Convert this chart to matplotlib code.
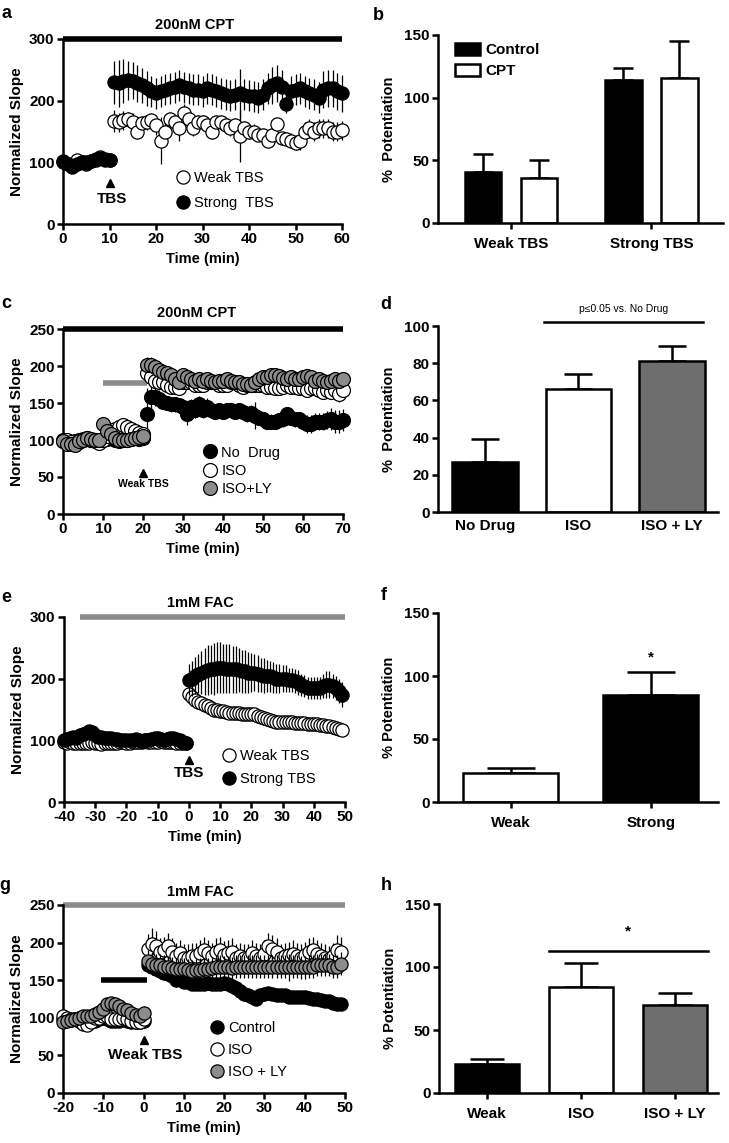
import numpy as np
import matplotlib
matplotlib.use('Agg')
import matplotlib.pyplot as plt

plt.rcParams['font.family'] = ['Liberation Sans', 'DejaVu Sans']
plt.rcParams['font.weight'] = 'bold'
plt.rcParams['axes.labelweight'] = 'bold'
plt.rcParams['axes.linewidth'] = 1.8
plt.rcParams['axes.unicode_minus'] = False

# ---------------- data ----------------
# panel a: 200nM CPT, weak vs strong TBS (t = 0..60 min)
a_time = np.arange(0, 61)
a_weak = [100, 98, 96, 103, 100, 101, 102, 104, 108, 105, 103,
          167, 165, 168, 170, 165, 150, 163, 165, 168, 160, 135, 150, 170, 165, 155, 180, 170, 155, 165, 165,
          160, 150, 165, 165, 160, 155, 160, 143, 155, 150, 150, 145, 145, 135, 145, 162, 140, 138, 135, 132,
          135, 150, 155, 150, 155, 155, 155, 150, 150, 152]
a_weak_err = [4, 4, 4, 4, 4, 4, 4, 4, 4, 4, 4,
              18, 15, 15, 12, 15, 12, 12, 12, 12, 15, 38, 15, 12, 12, 20, 15, 12, 12, 12, 12,
              12, 12, 12, 12, 12, 12, 12, 42, 12, 12, 12, 10, 10, 10, 10, 10, 10, 10, 12, 12,
              15, 15, 15, 15, 15, 15, 15, 15, 15, 15]
a_strong = [102, 97, 93, 97, 100, 98, 102, 105, 107, 104, 104,
            230, 228, 232, 233, 232, 228, 225, 220, 215, 212, 215, 218, 220, 222, 225, 222, 220, 218, 218, 215,
            220, 218, 215, 212, 210, 208, 210, 212, 210, 208, 207, 205, 210, 220, 225, 228, 222, 195, 215, 218,
            220, 215, 212, 210, 205, 218, 220, 220, 215, 212]
a_strong_err = [5, 5, 5, 5, 5, 5, 5, 5, 5, 5, 5,
                35, 38, 35, 32, 30, 30, 28, 28, 25, 25, 25, 25, 25, 25, 25, 25, 25, 25, 25, 25,
                25, 25, 25, 25, 25, 25, 25, 40, 25, 25, 25, 25, 25, 25, 30, 30, 28, 15, 25, 25,
                25, 25, 25, 25, 25, 30, 30, 30, 30, 30]
a_drug_bar = [0, 60]
a_stim = 10

# panel b
b_groups = ['Weak TBS', 'Strong TBS']
b_control = [41, 114]
b_control_err = [14, 10]
b_cpt = [36, 116]
b_cpt_err = [14, 29]

# panel c: 200nM CPT, no drug / ISO / ISO+LY (t = 0..70 min)
c_time = np.arange(0, 71)
c_nodrug = [100, 98, 97, 98, 100, 102, 103, 100, 100, 98, 100, 102, 104, 100, 98, 100, 100, 102, 103, 102, 103,
            135, 158, 158, 155, 152, 150, 148, 148, 147, 145,
            135, 145, 140, 148, 140, 145, 140, 138, 140, 138,
            140, 140, 138, 140, 138, 135, 137, 133, 130, 128,
            125, 125, 125, 127, 128, 135, 130, 128, 128, 125,
            122, 122, 125, 125, 125, 127, 128, 125, 125, 127]
c_nodrug_err = [5, 5, 5, 5, 5, 5, 5, 5, 5, 5, 5, 5, 5, 5, 5, 5, 5, 5, 5, 5, 5,
                35, 15, 12, 12, 10, 10, 10, 10, 10, 10,
                15, 10, 10, 12, 10, 12, 10, 10, 10, 10,
                10, 10, 10, 10, 10, 10, 10, 18, 10, 10,
                10, 10, 10, 10, 10, 10, 10, 10, 10, 10,
                12, 12, 12, 12, 12, 12, 15, 15, 15, 15]
c_iso = [98, 100, 97, 95, 97, 100, 102, 100, 98, 96, 100, 105, 110, 115, 118, 120, 118, 115, 112, 110, 108,
         190, 185, 180, 178, 178, 175, 172, 172, 170, 178,
         178, 178, 175, 175, 175, 178, 178, 178, 175, 175,
         175, 178, 178, 175, 172, 175, 175, 175, 175, 175,
         172, 172, 170, 170, 172, 175, 172, 172, 170, 170,
         168, 170, 170, 168, 165, 168, 165, 168, 162, 168]
c_iso_err = [5, 5, 5, 5, 5, 5, 5, 5, 5, 5, 6, 6, 6, 6, 6, 6, 6, 6, 6, 6, 6,
             12, 10, 8, 8, 8, 8, 8, 8, 8, 8,
             8, 8, 8, 8, 8, 8, 8, 8, 8, 8,
             8, 8, 8, 8, 8, 8, 8, 8, 8, 8,
             8, 8, 8, 8, 8, 8, 8, 8, 8, 8,
             8, 8, 8, 8, 8, 8, 8, 8, 10, 10]
c_isoly = [98, 95, 95, 93, 98, 100, 103, 102, 100, 100, 122, 112, 108, 103, 100, 100, 100, 102, 103, 104, 105,
           202, 202, 198, 195, 192, 190, 188, 182, 178, 188,
           185, 182, 180, 182, 180, 182, 180, 178, 180, 180,
           182, 180, 178, 178, 176, 176, 175, 178, 182, 185,
           185, 188, 188, 186, 184, 182, 185, 183, 182, 185,
           186, 185, 180, 182, 180, 178, 180, 182, 180, 182]
c_isoly_err = [5, 5, 5, 5, 5, 5, 5, 5, 5, 5, 8, 6, 6, 6, 6, 6, 6, 6, 6, 6, 6,
               10, 10, 8, 8, 8, 8, 8, 8, 8, 8,
               8, 8, 8, 8, 8, 8, 8, 8, 8, 8,
               8, 8, 8, 8, 8, 8, 8, 8, 8, 8,
               8, 8, 8, 8, 8, 8, 8, 8, 8, 8,
               8, 8, 8, 8, 8, 8, 8, 8, 8, 8]
c_drug_bar = [0, 70]
c_iso_bar = [10, 21]
c_iso_bar_level = 177
c_stim = 20

# panel d
d_groups = ['No Drug', 'ISO', 'ISO + LY']
d_mean = [27, 66, 81]
d_err = [12, 8, 8]

# panel e: 1mM FAC, weak vs strong TBS (t = -40..49 min)
e_time = np.arange(-40, 50)
e_strong = [100, 102, 104, 106, 104, 108, 110, 112, 115, 113,
            108, 106, 105, 104, 104, 103, 102, 102, 100, 100,
            100, 100, 101, 102, 100, 98, 100, 100, 102, 104,
            103, 102, 100, 102, 104, 103, 102, 100, 98, 96,
            198, 200, 205, 208, 210, 212, 214, 215, 216, 218,
            218, 217, 216, 216, 215, 215, 214, 212, 212, 210,
            210, 210, 208, 206, 205, 205, 204, 202, 200, 200,
            200, 200, 198, 198, 196, 194, 190, 188, 185, 185,
            185, 185, 185, 188, 190, 190, 188, 185, 180, 174]
e_strong_err = [5, 5, 5, 5, 5, 5, 5, 5, 5, 5,
                5, 5, 5, 5, 5, 5, 5, 5, 5, 5,
                5, 5, 5, 5, 5, 5, 5, 5, 5, 5,
                5, 5, 5, 5, 5, 5, 5, 5, 5, 5,
                25, 28, 30, 32, 35, 38, 40, 40, 42, 42,
                42, 40, 40, 40, 38, 38, 36, 35, 35, 33,
                32, 30, 30, 28, 28, 26, 25, 25, 24, 24,
                22, 22, 20, 20, 20, 20, 18, 18, 18, 18,
                18, 18, 18, 20, 22, 22, 20, 20, 20, 20]
e_weak = [98, 96, 97, 96, 95, 96, 95, 95, 96, 98,
          95, 96, 94, 95, 96, 95, 95, 96, 98, 97,
          96, 96, 98, 98, 98, 99, 100, 98, 97, 98,
          98, 99, 98, 97, 98, 97, 96, 95, 95, 96,
          175, 170, 165, 162, 160, 158, 155, 153, 150, 150,
          148, 148, 146, 145, 145, 145, 144, 143, 142, 142,
          142, 142, 140, 138, 136, 135, 133, 132, 130, 130,
          130, 130, 130, 130, 128, 128, 128, 128, 127, 127,
          126, 126, 125, 125, 124, 123, 122, 120, 118, 117]
e_weak_err = [4, 4, 4, 4, 4, 4, 4, 4, 4, 4,
              4, 4, 4, 4, 4, 4, 4, 4, 4, 4,
              4, 4, 4, 4, 4, 4, 4, 4, 4, 4,
              4, 4, 4, 4, 4, 4, 4, 4, 4, 4,
              10, 10, 10, 10, 9, 9, 9, 9, 9, 9,
              8, 8, 8, 8, 8, 8, 8, 8, 8, 8,
              8, 8, 8, 8, 8, 8, 8, 8, 8, 8,
              7, 7, 7, 7, 7, 7, 7, 7, 7, 7,
              7, 7, 7, 7, 7, 7, 7, 7, 7, 7]
e_drug_bar = [-35, 50]
e_stim = 0

# panel f
f_groups = ['Weak', 'Strong']
f_mean = [23, 85]
f_err = [4, 18]

# panel g: 1mM FAC, control / ISO / ISO+LY (t = -20..49 min)
g_time = np.arange(-20, 50)
g_control = [98, 97, 97, 98, 100, 100, 98, 96, 96, 98,
             100, 98, 96, 96, 96, 98, 96, 94, 95, 94, 96,
             170, 168, 165, 162, 160, 158, 155, 150, 152, 148,
             148, 145, 145, 145, 145, 146, 145, 145, 145, 146,
             145, 142, 140, 135, 132, 130, 127, 125, 130, 132,
             133, 132, 130, 130, 130, 128, 128, 128, 127, 128,
             126, 125, 125, 124, 123, 122, 120, 118, 119]
g_control_err = [5, 5, 5, 5, 5, 5, 5, 5, 5, 5,
                 5, 5, 5, 5, 5, 5, 5, 5, 5, 5, 5,
                 10, 10, 10, 10, 9, 9, 9, 9, 9, 8,
                 8, 8, 8, 8, 8, 8, 8, 8, 8, 8,
                 7, 7, 7, 7, 7, 7, 7, 7, 7, 7,
                 6, 6, 6, 6, 6, 6, 6, 6, 6, 6,
                 6, 6, 6, 6, 6, 6, 6, 6, 6]
g_iso = [102, 100, 98, 98, 96, 92, 90, 95, 100, 100,
         102, 102, 98, 98, 98, 100, 98, 96, 94, 95, 98,
         192, 198, 195, 188, 190, 195, 188, 182, 186, 180,
         180, 182, 182, 186, 190, 186, 182, 188, 190, 184,
         186, 188, 180, 182, 180, 180, 186, 182, 180, 185,
         195, 192, 188, 180, 182, 183, 185, 182, 180, 183,
         188, 190, 185, 182, 180, 178, 182, 190, 188]
g_iso_err = [6, 6, 6, 6, 6, 6, 6, 6, 6, 6,
             6, 6, 6, 6, 6, 6, 6, 6, 6, 6, 8,
             20, 22, 20, 18, 18, 18, 18, 18, 18, 18,
             18, 18, 18, 18, 18, 18, 18, 18, 18, 18,
             18, 18, 18, 18, 18, 18, 18, 18, 18, 18,
             18, 18, 18, 18, 18, 18, 18, 18, 18, 18,
             18, 18, 18, 18, 18, 18, 18, 20, 20]
g_isoly = [95, 96, 97, 98, 100, 102, 103, 103, 105, 108,
           112, 118, 120, 119, 116, 112, 110, 106, 104, 103, 106,
           175, 172, 170, 170, 168, 167, 166, 165, 165, 165,
           163, 162, 163, 164, 165, 165, 166, 168, 168, 167,
           167, 166, 168, 168, 168, 168, 168, 168, 168, 168,
           168, 168, 168, 168, 168, 167, 168, 168, 167, 167,
           168, 168, 170, 170, 170, 170, 168, 168, 172]
g_isoly_err = [6, 6, 6, 6, 6, 6, 6, 6, 6, 6,
               6, 6, 6, 6, 6, 6, 6, 6, 6, 6, 10,
               15, 15, 15, 15, 15, 15, 15, 15, 15, 15,
               15, 15, 15, 15, 15, 15, 15, 15, 15, 15,
               15, 15, 15, 15, 15, 15, 15, 15, 15, 15,
               15, 15, 15, 15, 15, 18, 15, 15, 15, 15,
               15, 15, 15, 15, 15, 15, 15, 15, 15]
g_drug_bar = [-20, 50]
g_iso_bar = [-10.5, 0.8]
g_iso_bar_level = 150
g_stim = 0

# panel h
h_groups = ['Weak', 'ISO', 'ISO + LY']
h_mean = [23, 84, 70]
h_err = [4, 19, 9]

GRAY = '#8c8c8c'
DARK = '#6e6e6e'

# ---------------- figure ----------------
W, H = 729, 1143
fig = plt.figure(figsize=(W / 100, H / 100), dpi=100)


def make_ax(l, t, r, b):
    ax = fig.add_axes([l / W, 1 - b / H, (r - l) / W, (b - t) / H])
    ax.spines['top'].set_visible(False)
    ax.spines['right'].set_visible(False)
    ax.tick_params(direction='out', length=4, width=1.8, labelsize=11, pad=2)
    return ax


def series(ax, t, y, e, fc, z, ms=9.5):
    cont = ax.errorbar(t, y, yerr=e, fmt='o', ms=ms, mfc=fc, mec='k', mew=0.9,
                       ecolor='k', elinewidth=0.9, capsize=0, zorder=z)
    for art in cont.get_children():
        art.set_clip_on(False)
    return cont[0]


def label(x, y, s, **kw):
    fig.text(x / W, 1 - y / H, s, ha='center', va='center', **kw)


def bar_err(ax, x, m, e, capsize):
    ax.errorbar(x, m, yerr=[np.zeros(len(m)), e], fmt='none', ecolor='k',
                elinewidth=1.8, capsize=capsize, capthick=1.8, zorder=1)


def series_legend(ax, handles, names, x, y, spacing):
    ax.legend(handles, names, loc='upper left', bbox_to_anchor=(x, y), frameon=False,
              prop={'weight': 'normal', 'size': 10.5}, handlelength=1, handletextpad=0.25,
              labelspacing=spacing, borderaxespad=0, borderpad=0)


# ---- a ----
ax = make_ax(63, 39, 342, 224)
h2 = series(ax, a_time, a_weak, a_weak_err, 'white', 3)
h1 = series(ax, a_time, a_strong, a_strong_err, 'k', 4)
ax.plot(a_drug_bar, [300, 300], color='k', lw=4, solid_capstyle='butt', clip_on=False)
ax.plot([a_stim], [66], marker='^', color='k', ms=6)
ax.text(a_stim + 0.5, 40, 'TBS', ha='center', va='center', fontsize=11)
ax.set_xlim(0, 60)
ax.set_ylim(0, 300)
ax.set_xticks(np.arange(0, 61, 10))
ax.set_yticks([0, 100, 200, 300])
ax.set_xlabel('Time (min)', fontsize=10.5, labelpad=4)
ax.set_ylabel('Normalized Slope', fontsize=11, labelpad=4)
series_legend(ax, [h2, h1], ['Weak TBS', 'Strong  TBS'], 0.405, 0.285, 0.75)

# ---- b ----
ax = make_ax(438, 35, 723, 223)
xb = np.arange(len(b_groups))
ax.bar(xb - 0.2, b_control, 0.26, color='k', edgecolor='k', lw=1.8, label='Control', zorder=2)
ax.bar(xb + 0.2, b_cpt, 0.26, color='white', edgecolor='k', lw=1.8, label='CPT', zorder=2)
bar_err(ax, xb - 0.2, b_control, b_control_err, 7)
bar_err(ax, xb + 0.2, b_cpt, b_cpt_err, 7)
ax.set_xlim(-0.52, 1.51)
ax.set_ylim(0, 150)
ax.set_yticks([0, 50, 100, 150])
ax.set_xticks(xb)
ax.set_xticklabels(b_groups)
ax.tick_params(axis='x', pad=6)
ax.set_ylabel('%  Potentiation', fontsize=10.5, labelpad=6)
ax.legend(loc='upper left', bbox_to_anchor=(0.06, 0.96), frameon=False,
          prop={'weight': 'bold', 'size': 11}, handlelength=1.6, handleheight=0.85,
          handletextpad=0.4, labelspacing=0.45, borderaxespad=0, borderpad=0)

# ---- c ----
ax = make_ax(63, 329, 343, 514)
hc1 = series(ax, c_time, c_nodrug, c_nodrug_err, 'k', 3, ms=10)
hc2 = series(ax, c_time, c_iso, c_iso_err, 'white', 4, ms=10)
hc3 = series(ax, c_time, c_isoly, c_isoly_err, GRAY, 5, ms=10)
ax.plot(c_drug_bar, [250, 250], color='k', lw=4, solid_capstyle='butt', clip_on=False)
ax.plot(c_iso_bar, [c_iso_bar_level, c_iso_bar_level], color=GRAY, lw=4, solid_capstyle='butt', zorder=2)
ax.plot([c_stim], [55], marker='^', color='k', ms=6)
ax.text(c_stim, 40, 'Weak TBS', ha='center', va='center', fontsize=7.5)
ax.set_xlim(0, 70)
ax.set_ylim(0, 250)
ax.set_xticks(np.arange(0, 71, 10))
ax.set_yticks(np.arange(0, 251, 50))
ax.set_xlabel('Time (min)', fontsize=10.5, labelpad=4)
ax.set_ylabel('Normalized Slope', fontsize=11, labelpad=4)
series_legend(ax, [hc1, hc2, hc3], ['No  Drug', 'ISO', 'ISO+LY'], 0.5, 0.37, 0.3)

# ---- d ----
ax = make_ax(438, 326, 718, 512)
xd = np.arange(len(d_groups))
ax.bar(xd, d_mean, 0.7, color=['k', 'white', DARK], edgecolor='k', lw=1.8, zorder=2)
bar_err(ax, xd, d_mean, d_err, 10)
ax.plot([0.63, 2.33], [102, 102], color='k', lw=1.8, clip_on=False)
ax.text(1.48, 109, 'p\u22640.05 vs. No Drug', ha='center', va='center', fontsize=7.5,
        fontweight='normal')
ax.set_xlim(-0.5, 2.49)
ax.set_ylim(0, 100)
ax.set_yticks(np.arange(0, 101, 20))
ax.set_xticks(xd)
ax.set_xticklabels(d_groups)
ax.tick_params(axis='x', length=0, pad=5)
ax.set_ylabel('%  Potentiation', fontsize=10.5, labelpad=6)

# ---- e ----
ax = make_ax(64, 617, 345, 802)
he1 = series(ax, e_time, e_weak, e_weak_err, 'white', 3)
he2 = series(ax, e_time, e_strong, e_strong_err, 'k', 4)
ax.plot(e_drug_bar, [300, 300], color=GRAY, lw=4, solid_capstyle='butt', clip_on=False)
ax.plot([e_stim], [68], marker='^', color='k', ms=6)
ax.text(e_stim, 47, 'TBS', ha='center', va='center', fontsize=11)
ax.set_xlim(-40, 50)
ax.set_ylim(0, 300)
ax.set_xticks(np.arange(-40, 51, 10))
ax.set_yticks([0, 100, 200, 300])
ax.set_xlabel('Time (min)', fontsize=10.5, labelpad=4)
ax.set_ylabel('Normalized Slope', fontsize=11, labelpad=4)
series_legend(ax, [he1, he2], ['Weak TBS', 'Strong TBS'], 0.56, 0.285, 0.6)

# ---- f ----
ax = make_ax(438, 613, 718, 802)
xf = np.arange(len(f_groups))
ax.bar(xf, f_mean, 0.68, color=['white', 'k'], edgecolor='k', lw=1.8, zorder=2)
bar_err(ax, xf, f_mean, f_err, 17)
ax.text(1, 115, '*', ha='center', va='center', fontsize=11)
ax.set_xlim(-0.52, 1.48)
ax.set_ylim(0, 150)
ax.set_yticks([0, 50, 100, 150])
ax.set_xticks(xf)
ax.set_xticklabels(f_groups)
ax.tick_params(axis='x', pad=6)
ax.set_ylabel('% Potentiation', fontsize=10.5, labelpad=6)

# ---- g ----
ax = make_ax(63, 905, 345, 1093)
hg1 = series(ax, g_time, g_control, g_control_err, 'k', 3)
hg2 = series(ax, g_time, g_iso, g_iso_err, 'white', 4)
hg3 = series(ax, g_time, g_isoly, g_isoly_err, GRAY, 5)
ax.plot(g_drug_bar, [250, 250], color=GRAY, lw=4, solid_capstyle='butt', clip_on=False)
ax.plot(g_iso_bar, [g_iso_bar_level, g_iso_bar_level], color='k', lw=4, solid_capstyle='butt', zorder=2)
ax.plot([g_stim], [70], marker='^', color='k', ms=6)
ax.text(g_stim + 0.5, 50, 'Weak TBS', ha='center', va='center', fontsize=11)
ax.set_xlim(-20, 50)
ax.set_ylim(0, 250)
ax.set_xticks(np.arange(-20, 51, 10))
ax.set_yticks(np.arange(0, 251, 50))
ax.set_xlabel('Time (min)', fontsize=10.5, labelpad=4)
ax.set_ylabel('Normalized Slope', fontsize=11, labelpad=4)
series_legend(ax, [hg1, hg2, hg3], ['Control', 'ISO', 'ISO + LY'], 0.52, 0.385, 0.55)

# ---- h ----
ax = make_ax(439, 904, 718, 1093)
xh = np.arange(len(h_groups))
ax.bar(xh, h_mean, 0.68, color=['k', 'white', DARK], edgecolor='k', lw=1.8, zorder=2)
bar_err(ax, xh, h_mean, h_err, 12)
ax.plot([0.66, 2.35], [113, 113], color='k', lw=1.8)
ax.text(1.5, 128, '*', ha='center', va='center', fontsize=11)
ax.set_xlim(-0.51, 2.46)
ax.set_ylim(0, 150)
ax.set_yticks([0, 50, 100, 150])
ax.set_xticks(xh)
ax.set_xticklabels(h_groups)
ax.tick_params(axis='x', pad=6)
ax.set_ylabel('% Potentiation', fontsize=10.5, labelpad=6)

# titles and panel letters
label(195, 25, '200nM CPT', fontsize=10.5)
label(197, 313, '200nM CPT', fontsize=10.5)
label(200, 603, '1mM FAC', fontsize=10.5)
label(200, 892, '1mM FAC', fontsize=10.5)
for s, x, y in [('a', 6, 14), ('b', 378, 16), ('c', 6, 303), ('d', 386, 305),
                ('e', 6, 597), ('f', 384, 596), ('g', 5, 885), ('h', 386, 885)]:
    label(x, y, s, fontsize=13)

fig.savefig('out.png', dpi=100)
